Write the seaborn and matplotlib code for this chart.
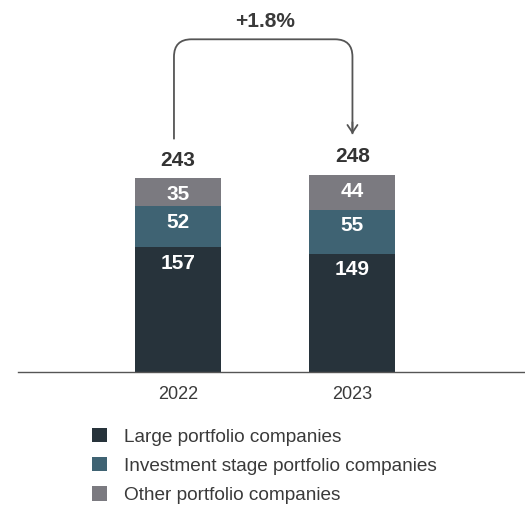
import matplotlib
matplotlib.use("Agg")
import matplotlib.pyplot as plt
import seaborn as sns
import pandas as pd
from matplotlib.path import Path
from matplotlib.patches import PathPatch, Patch

years = ["2022", "2023"]
large = [157, 149]
investment = [52, 55]
other = [35, 44]
totals = [243, 248]
change_label = "+1.8%"
series_names = ["Large portfolio companies",
                "Investment stage portfolio companies",
                "Other portfolio companies"]
colors = ["#27333b", "#3f6373", "#7b7a80"]

sns.set_theme(style="white")
plt.rcParams['font.family'] = ['Liberation Sans', 'DejaVu Sans']

df = pd.DataFrame({"year": years, "large": large, "investment": investment,
                   "other": other})
df["top_inv"] = df["large"] + df["investment"]
df["top_other"] = df["top_inv"] + df["other"]

fig = plt.figure(figsize=(5.25, 5.07), dpi=100)
ax = fig.add_axes([18/525, 135/507, 507/525, 372/507])

W = 0.493
for col, c in zip(["top_other", "top_inv", "large"], colors[::-1]):
    sns.barplot(data=df, x="year", y=col, color=c, width=W, ax=ax,
                saturation=1, order=years, linewidth=0, edgecolor="none")

ax.set_xlim(-0.917, 1.989)
ax.set_ylim(0, 468.5)
for s in ["top", "right", "left"]:
    ax.spines[s].set_visible(False)
ax.spines["bottom"].set_color("#555555")
ax.spines["bottom"].set_linewidth(1.0)
ax.set_yticks([])
ax.set_xlabel("")
ax.set_ylabel("")
ax.tick_params(axis="x", length=0, pad=10, labelsize=13, labelcolor="#3a3a3a")

# segment labels
for i in range(len(years)):
    seg_vals = [large[i], investment[i], other[i]]
    seg_tops = [df["large"][i], df["top_inv"][i], df["top_other"][i]]
    for v, t in zip(seg_vals, seg_tops):
        ax.annotate(str(v), xy=(i, t), xytext=(0, -11.5), textcoords="offset points",
                    ha="center", va="center", color="white", fontsize=15,
                    fontweight="bold")
    ax.annotate(str(totals[i]), xy=(i, totals[i]), xytext=(0, 13.7),
                textcoords="offset points", ha="center", va="center",
                color="#333333", fontsize=15, fontweight="bold")

# connector arrow
x0, x1 = -0.023, 1.0
y0 = totals[0] + 50
ytip = totals[1] + 51.6
ytop = 419
rx, ry = 0.1, 22
verts = [(x0, y0), (x0, ytop - ry), (x0, ytop), (x0 + rx, ytop),
         (x1 - rx, ytop), (x1, ytop), (x1, ytop - ry), (x1, ytip)]
codes = [Path.MOVETO, Path.LINETO, Path.CURVE3, Path.CURVE3,
         Path.LINETO, Path.CURVE3, Path.CURVE3, Path.LINETO]
ax.add_patch(PathPatch(Path(verts, codes), fill=False, edgecolor="#555555",
                       linewidth=1.3, clip_on=False))
ax.annotate("", xy=(x1, ytip), xytext=(x1, ytip + 15),
            arrowprops=dict(arrowstyle="->,head_length=0.45,head_width=0.3",
                            color="#555555", lw=1.3, shrinkA=0, shrinkB=0))
ax.text(0.5, 441, change_label, ha="center", va="center", fontsize=15,
        fontweight="bold", color="#3a3a3a")

handles = [Patch(facecolor=c, edgecolor="none") for c in colors]
fig.legend(handles, series_names, loc="upper left",
           bbox_to_anchor=(84/525, 1 - 420/507), frameon=False, fontsize=13.7,
           handlelength=0.8, handleheight=0.8, handletextpad=0.9,
           labelspacing=0.6, labelcolor="#3a3a3a", borderaxespad=0)

fig.savefig("out.png", dpi=100)
